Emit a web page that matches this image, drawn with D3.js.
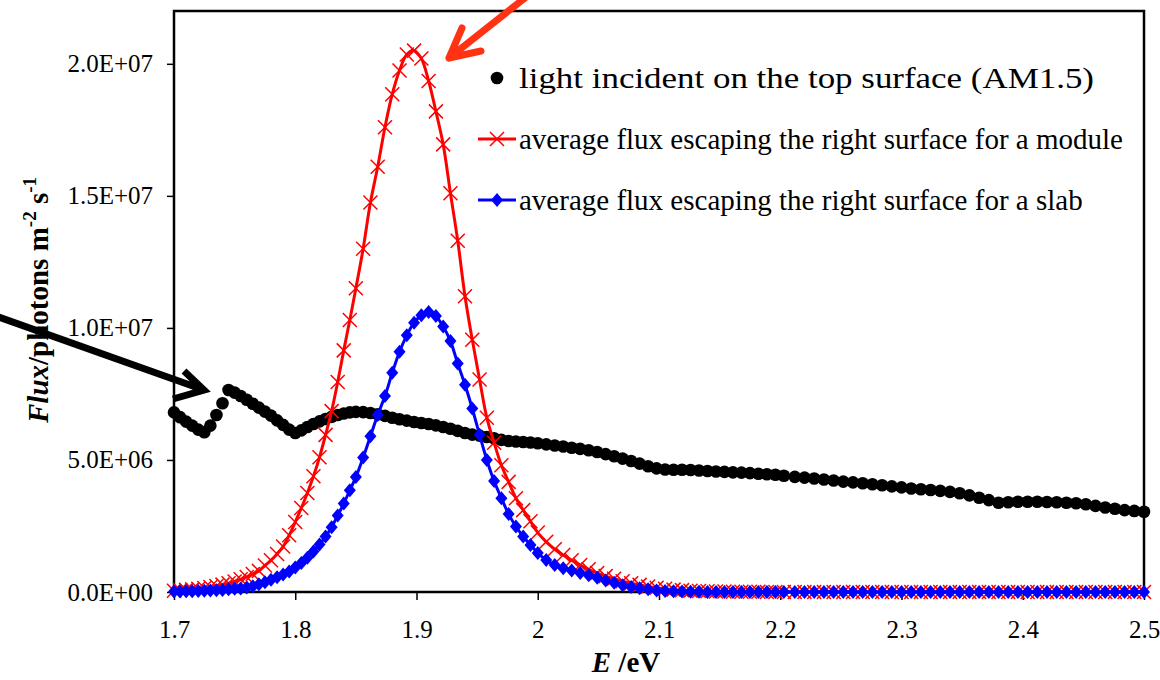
<!DOCTYPE html>
<html><head><meta charset="utf-8">
<script src="https://cdn.jsdelivr.net/npm/d3@7"></script>
<style>
body{margin:0;background:#fff}
svg{display:block}
text{font-family:"Liberation Serif","Times New Roman",serif;fill:#000}
</style>
</head><body>
<svg id="c" width="1160" height="680"></svg>
<script>
// Photon energy grid (eV)
const energy = [
1.700,1.705,1.710,1.715,1.720,1.725,1.730,1.735,1.740,1.745,1.750,1.755,1.760,1.765,1.770,1.775,1.780,1.785,1.790,1.795,1.800,1.805,1.810,1.815,1.820,1.825,1.830,1.835,1.840,1.845,1.850,
1.856,1.862,1.868,1.874,1.880,1.886,1.892,1.898,1.904,1.910,1.916,1.922,1.928,1.934,1.940,1.946,1.952,1.958,1.964,1.970,1.976,1.982,1.988,1.994,2.000,
2.007,2.014,2.021,2.028,2.035,2.042,2.049,2.056,2.063,2.070,2.077,2.084,2.091,2.098,2.105,2.112,2.119,2.126,2.133,2.140,2.147,2.154,2.161,2.168,2.175,2.182,2.189,2.196,2.203,
2.212,2.220,2.228,2.236,2.244,2.252,2.260,2.268,2.276,2.284,2.292,2.300,2.308,2.316,2.324,2.332,2.340,2.348,2.356,2.364,2.372,2.380,2.388,2.396,2.404,2.412,2.420,2.428,2.436,2.444,2.452,2.460,2.468,2.476,2.484,2.492,2.500
];
// Flux, in units of 1e6 photons m^-2 s^-1
const am15Flux = [
6.80,6.62,6.45,6.30,6.15,6.05,6.30,6.70,7.15,7.65,7.55,7.42,7.28,7.13,6.98,6.83,6.68,6.50,6.33,6.15,6.02,6.12,6.25,6.36,6.46,6.55,6.63,6.70,6.76,6.80,6.82,
6.81,6.78,6.73,6.67,6.60,6.54,6.49,6.44,6.40,6.36,6.31,6.25,6.18,6.10,6.02,5.96,5.92,5.87,5.82,5.76,5.72,5.70,5.68,5.66,5.63,
5.59,5.55,5.51,5.46,5.42,5.37,5.30,5.22,5.14,5.05,4.96,4.86,4.76,4.68,4.64,4.63,4.63,4.62,4.60,4.58,4.56,4.55,4.53,4.52,4.50,4.48,4.46,4.44,4.40,
4.36,4.33,4.30,4.26,4.22,4.18,4.15,4.12,4.08,4.04,4.00,3.96,3.92,3.89,3.86,3.83,3.79,3.74,3.66,3.57,3.48,3.38,3.40,3.42,3.42,3.42,3.41,3.40,3.38,3.36,3.32,3.26,3.20,3.15,3.10,3.07,3.04
];
const moduleFlux = [
0.05,0.07,0.08,0.10,0.12,0.15,0.19,0.23,0.28,0.33,0.40,0.48,0.57,0.68,0.80,1.00,1.20,1.44,1.72,2.15,2.65,3.18,3.75,4.38,5.10,5.95,6.85,7.95,9.15,10.30,11.50,
13.00,14.75,16.10,17.60,18.85,19.75,20.35,20.50,20.20,19.35,18.20,16.95,15.10,13.30,11.20,9.55,8.05,6.60,5.65,4.80,4.17,3.55,3.10,2.68,2.25,
1.90,1.62,1.40,1.20,1.02,0.86,0.72,0.60,0.50,0.41,0.33,0.27,0.21,0.16,0.12,0.09,0.07,0.05,0.04,0.03,0.02,0.02,0.01,0.01,0.01,0.01,0.00,0.00,0.00,
0,0,0,0,0,0,0,0,0,0,0,0,0,0,0,0,0,0,0,0,0,0,0,0,0,0,0,0,0,0,0,0,0,0,0,0,0
];
const slabFlux = [
0.02,0.02,0.03,0.03,0.04,0.05,0.06,0.07,0.08,0.10,0.12,0.13,0.17,0.22,0.29,0.37,0.46,0.56,0.66,0.78,0.93,1.10,1.30,1.53,1.80,2.10,2.45,2.90,3.35,3.85,4.35,
5.09,5.90,6.70,7.42,8.30,9.10,9.72,10.20,10.48,10.60,10.45,10.05,9.50,8.65,7.85,6.95,5.95,5.00,4.20,3.55,2.95,2.48,2.10,1.78,1.48,
1.21,1.02,0.90,0.81,0.72,0.63,0.54,0.44,0.35,0.26,0.19,0.14,0.10,0.06,0.04,0.03,0.02,0.01,0.01,0,0,0,0,0,0,0,0,0,0,
0,0,0,0,0,0,0,0,0,0,0,0,0,0,0,0,0,0,0,0,0,0,0,0,0,0,0,0,0,0,0,0,0,0,0,0,0
];
const xTicks = [1.7,1.8,1.9,2.0,2.1,2.2,2.3,2.4,2.5];
const xTickLabels = ["1.7","1.8","1.9","2","2.1","2.2","2.3","2.4","2.5"];
const yTicks = [0,5,10,15,20];
const yTickLabels = ["0.0E+00","5.0E+06","1.0E+07","1.5E+07","2.0E+07"];
const legendLabels = [
  "light incident on the top surface (AM1.5)",
  "average flux escaping the right surface for a module",
  "average flux escaping the right surface for a slab"
];

const svg = d3.select("#c");
const x = d3.scaleLinear().domain([1.7,2.5]).range([174,1144]);
const y = d3.scaleLinear().domain([0,22]).range([592,11]);

// axes
const yAxis = svg.append("g").attr("transform","translate(174,0)")
  .call(d3.axisLeft(y).tickValues(yTicks).tickFormat((d,i)=>yTickLabels[i]).tickSize(7).tickPadding(14));
yAxis.select(".domain").remove();
yAxis.selectAll("line").attr("stroke","#000").attr("stroke-width",1.5);
yAxis.selectAll("text").attr("font-size",25).attr("font-family","Liberation Serif");

const xAxis = svg.append("g").attr("transform","translate(0,592)")
  .call(d3.axisBottom(x).tickValues(xTicks).tickFormat((d,i)=>xTickLabels[i]).tickSize(8).tickPadding(20));
xAxis.select(".domain").remove();
xAxis.selectAll("line").attr("stroke","#000").attr("stroke-width",1.5);
xAxis.selectAll("text").attr("font-size",25).attr("font-family","Liberation Serif");

// frame
svg.append("rect").attr("x",174).attr("y",11).attr("width",970).attr("height",581)
  .attr("fill","none").attr("stroke","#000").attr("stroke-width",2.5);

const pts = s => energy.map((e,i)=>[e,s[i]]);

// AM1.5 markers
svg.append("g").selectAll("circle").data(pts(am15Flux)).join("circle")
  .attr("cx",d=>x(d[0])).attr("cy",d=>y(d[1])).attr("r",6.3).attr("fill","#000");

const line = d3.line().x(d=>x(d[0])).y(d=>y(d[1])).curve(d3.curveCatmullRom);

// module
svg.append("path").datum(pts(moduleFlux)).attr("d",line)
  .attr("fill","none").attr("stroke","#ff0000").attr("stroke-width",3);
const crossPath = "M-7,-7L7,7M-7,7L7,-7";
svg.append("g").selectAll("path").data(pts(moduleFlux)).join("path")
  .attr("transform",d=>`translate(${x(d[0])},${y(d[1])})`).attr("d",crossPath)
  .attr("stroke","#ff0000").attr("stroke-width",1.5).attr("fill","none");

// slab
svg.append("path").datum(pts(slabFlux)).attr("d",line)
  .attr("fill","none").attr("stroke","#0000ff").attr("stroke-width",3);
const diamond = "M0,-7L6,0L0,7L-6,0Z";
svg.append("g").selectAll("path").data(pts(slabFlux)).join("path")
  .attr("transform",d=>`translate(${x(d[0])},${y(d[1])})`).attr("d",diamond)
  .attr("fill","#0000ff");

// legend
const lg = svg.append("g");
const ly = [78,139,200];
lg.append("circle").attr("cx",497).attr("cy",ly[0]).attr("r",6.3).attr("fill","#000");
lg.append("line").attr("x1",478).attr("x2",516).attr("y1",ly[1]).attr("y2",ly[1]).attr("stroke","#ff0000").attr("stroke-width",3);
lg.append("path").attr("transform",`translate(497,${ly[1]})`).attr("d",crossPath).attr("stroke","#ff0000").attr("stroke-width",1.5);
lg.append("line").attr("x1",478).attr("x2",516).attr("y1",ly[2]).attr("y2",ly[2]).attr("stroke","#0000ff").attr("stroke-width",3);
lg.append("path").attr("transform",`translate(497,${ly[2]})`).attr("d",diamond).attr("fill","#0000ff");
legendLabels.forEach((t,i)=>{
  const tx = lg.append("text").attr("x",519).attr("y",ly[i]).attr("dy","0.33em").attr("font-size",29).text(t);
  if(i===0) tx.attr("textLength",575).attr("lengthAdjust","spacingAndGlyphs");
});

// axis titles
const xt = svg.append("text").attr("x",626).attr("y",672).attr("text-anchor","middle")
  .attr("font-size",29).attr("font-weight","bold");
xt.append("tspan").attr("font-style","italic").text("E");
xt.append("tspan").text(" /eV");

const yt = svg.append("text").attr("transform","translate(48,300) rotate(-90)")
  .attr("text-anchor","middle").attr("font-size",29).attr("font-weight","bold");
yt.append("tspan").attr("font-style","italic").text("Flux");
yt.append("tspan").text("/photons m");
yt.append("tspan").attr("font-size",19).attr("dy",-12).text("-2");
yt.append("tspan").attr("dy",12).text(" s");
yt.append("tspan").attr("font-size",19).attr("dy",-12).text("-1");

// annotation arrows
const red = "rgb(255,50,20)";
svg.append("path").attr("d","M540,-14L449,58M462,28L449,58L481,51")
  .attr("fill","none").attr("stroke",red).attr("stroke-width",7).attr("stroke-linecap","round").attr("stroke-linejoin","round");
svg.append("path").attr("d","M-10,314L204,390M184,371L204,390L173,399")
  .attr("fill","none").attr("stroke","#000").attr("stroke-width",7).attr("stroke-linejoin","miter");
</script>
</body></html>
